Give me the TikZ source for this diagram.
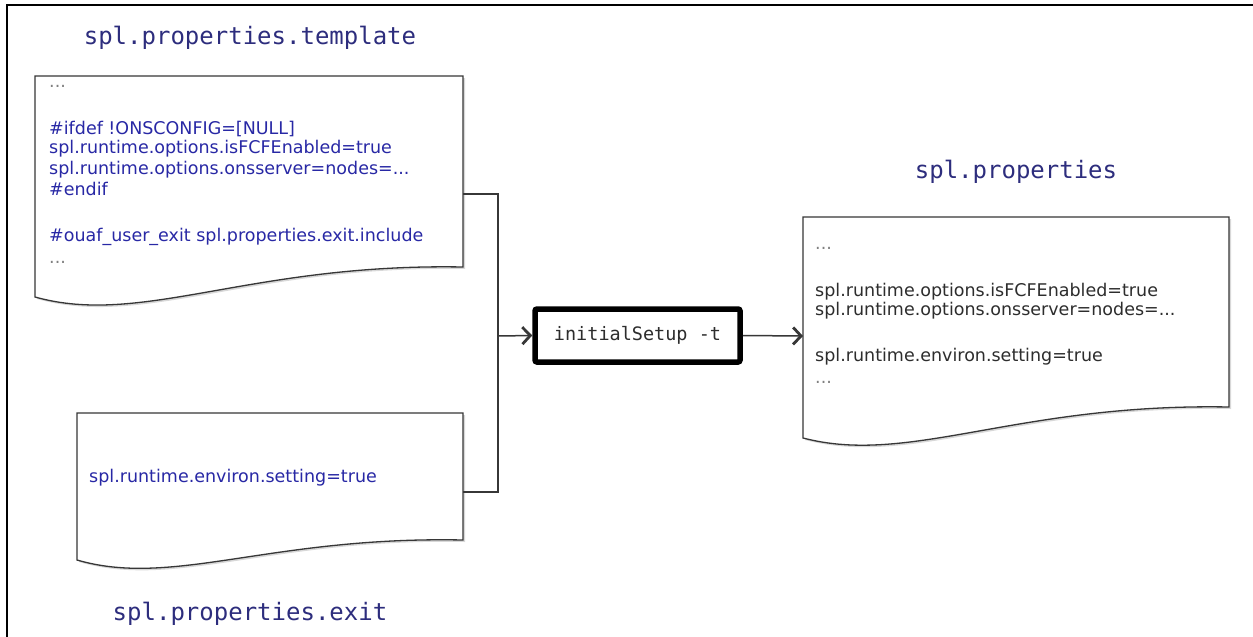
\documentclass[tikz,border=0pt]{standalone}
\usepackage{fontspec}
\setmainfont{DejaVu Sans}
\newfontfamily\monofont{DejaVu Sans Mono}
\usetikzlibrary{arrows.meta,shadows,calc}
\definecolor{titlecol}{RGB}{45,45,125}
\definecolor{bluetext}{RGB}{40,40,165}
\definecolor{graytext}{RGB}{45,45,45}
\definecolor{linecol}{RGB}{55,55,55}
\begin{document}
\begin{tikzpicture}[x=1pt,y=-1pt,
  doc/.style={draw=linecol, line width=1.3pt, fill=white,
    drop shadow={shadow xshift=2pt,shadow yshift=-2pt,opacity=0.3}},
  docnode/.style={draw=none, inner sep=0, outer sep=0},
  title/.style={font=\monofont\fontsize{24}{28}\selectfont, text=titlecol, anchor=base, inner sep=0},
  txt/.style={font=\fontsize{17.5}{20}\selectfont, anchor=base west, inner sep=0},
  conn/.style={draw=linecol, line width=1.5pt},
  arr/.style={conn, -{Straight Barb[length=8pt,width=17pt,line width=2.8pt]}},
  stepbox/.style={draw=black, line width=5.5pt, rounded corners=2pt, fill=white,
    minimum width=205pt, minimum height=53pt, inner sep=0,
    font=\monofont\fontsize{18.5}{22}\selectfont, text=graytext}
]
\useasboundingbox (0,0) rectangle (1253,637);
\fill[white] (0,0) rectangle (1253,637);
% frame (top and left edges)
\draw[line width=2.5pt, black] (7,637) -- (7,5) -- (1253,5);

% titles
\node[title] (ttpl) at (250,44) {spl.properties.template};
\node[title] (text) at (250,620) {spl.properties.exit};
\node[title] (tout) at (1016,178) {spl.properties};

% document outlines
\draw[doc] (35,76) -- (463,76) -- (463,267) .. controls (249,263) and (142,327) .. (35,297) -- cycle;
\draw[doc] (77,413) -- (463,413) -- (463,540) .. controls (270,536) and (173,588) .. (77,560) -- cycle;
\draw[doc] (803,217) -- (1229,217) -- (1229,407) .. controls (1016,403) and (910,466) .. (803,438) -- cycle;

% invisible doc nodes for connectors
\node[docnode, minimum width=428pt, minimum height=236pt] (tpl) at (249,194) {};
\node[docnode, minimum width=386pt, minimum height=158pt] (ext) at (270,492) {};
\node[docnode, minimum width=426pt, minimum height=238pt] (out) at (1016,336) {};

% template text
\begin{scope}[every node/.append style={txt, text=bluetext}]
\node (a1) at (49,87) {\textcolor{gray}{...}};
\node (a2) at (49,134) {\#ifdef !ONSCONFIG=[NULL]};
\node (a3) at (49,153.5) {spl.runtime.options.isFCFEnabled=true};
\node (a4) at (49,174) {spl.runtime.options.onsserver=nodes=...};
\node (a5) at (49,195) {\#endif};
\node (a6) at (49,241) {\#ouaf\_user\_exit spl.properties.exit.include};
\node (a7) at (49,263) {\textcolor{gray}{...}};
\node (b1) at (89,482) {spl.runtime.environ.setting=true};
\end{scope}
\begin{scope}[every node/.append style={txt, text=graytext}]
\node (c1) at (815,249) {\textcolor{gray}{...}};
\node (c2) at (815,296) {spl.runtime.options.isFCFEnabled=true};
\node (c3) at (815,315) {spl.runtime.options.onsserver=nodes=...};
\node (c4) at (815,361) {spl.runtime.environ.setting=true};
\node (c5) at (815,383) {\textcolor{gray}{...}};
\end{scope}

% process box
\node[stepbox] (setup) at (637.5,335.5) {initialSetup -t};

% connectors
\coordinate (jn) at (498,336);
\draw[conn] (tpl.east) -| (jn);
\draw[conn] (ext.east) -| (jn);
\draw[arr] (jn) -- (setup.west);
\draw[arr] (setup.east) -- (out.west);
\end{tikzpicture}
\end{document}
